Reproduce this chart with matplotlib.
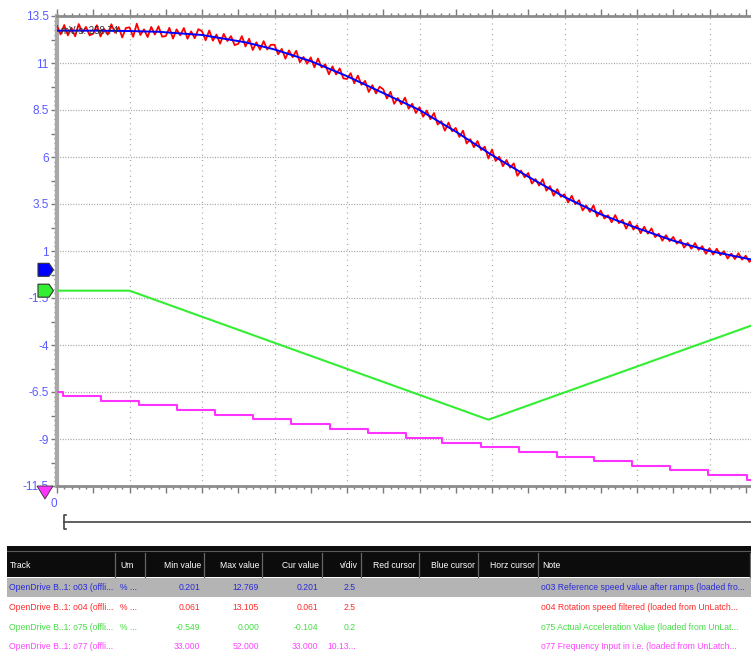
import numpy as np
import matplotlib
matplotlib.use("Agg")
import matplotlib.pyplot as plt
from matplotlib import font_manager as fm
from matplotlib.patches import Rectangle, Polygon
from matplotlib.ticker import FixedLocator, MultipleLocator, NullFormatter, FuncFormatter

_names = {f.name for f in fm.fontManager.ttflist}
NARROW = 'Liberation Sans Narrow' if 'Liberation Sans Narrow' in _names else 'Liberation Sans'
HAVE_NARROW = NARROW == 'Liberation Sans Narrow'
plt.rcParams['font.family'] = [NARROW, 'DejaVu Sans']

# ---------------- data (time in screen divisions) ----------------
blue_t = [0.0, 0.5, 1.0, 1.4, 2.0, 2.6, 3.0, 3.5, 4.0, 4.5, 5.0, 5.5, 6.0, 6.5,
          7.0, 7.5, 8.0, 8.5, 9.0, 9.6]
blue_v = [12.72, 12.72, 12.70, 12.66, 12.49, 12.1, 11.72, 11.1, 10.3, 9.4, 8.5,
          7.35, 6.1, 4.95, 3.87, 2.95, 2.22, 1.55, 1.0, 0.53]

red_dt = 0.05
red_v = [12.97, 12.52, 13.02, 12.47, 12.87, 12.42, 13.07, 12.62, 12.92, 12.47,
         12.56, 13.01, 12.41, 12.81, 12.51, 13.06, 12.61, 12.91, 12.36, 12.86,
         12.90, 12.39, 13.09, 12.49, 12.79, 12.38, 12.92, 12.51, 12.95, 12.40,
         12.43, 12.87, 12.30, 12.79, 12.47, 12.86, 12.29, 12.68, 12.32, 12.80,
         12.69, 12.21, 12.73, 12.19, 12.51, 12.03, 12.55, 12.17, 12.43, 11.95,
         12.02, 12.43, 11.88, 12.29, 11.69, 12.10, 11.71, 12.16, 11.72, 11.97,
         11.97, 11.46, 11.75, 11.23, 11.67, 11.31, 11.65, 11.04, 11.32, 10.96,
         11.30, 10.77, 11.24, 10.76, 10.93, 10.40, 10.82, 10.39, 10.71, 10.18,
         10.15, 10.46, 9.92, 10.33, 9.84, 10.05, 9.46, 9.82, 9.38, 9.74,
         9.60, 9.11, 9.47, 8.83, 9.14, 8.80, 9.16, 8.57, 8.83, 8.34,
         8.65, 8.14, 8.47, 8.01, 8.34, 7.73, 7.91, 7.40, 7.83, 7.37,
         7.55, 7.07, 7.40, 6.72, 6.95, 6.52, 6.85, 6.37, 6.55, 5.92,
         6.40, 5.79, 6.02, 5.51, 5.84, 5.43, 5.66, 5.00, 5.28, 4.92,
         5.15, 4.59, 4.83, 4.48, 4.82, 4.21, 4.45, 3.94, 4.29, 3.88,
         4.02, 3.58, 3.94, 3.49, 3.70, 3.16, 3.42, 3.08, 3.43, 2.84,
         3.15, 2.73, 2.90, 2.53, 2.91, 2.48, 2.66, 2.19, 2.57, 2.14,
         2.37, 1.95, 2.29, 1.92, 2.20, 1.74, 1.92, 1.55, 1.84, 1.52,
         1.75, 1.39, 1.59, 1.18, 1.43, 1.12, 1.42, 1.06, 1.26, 0.85,
         1.15, 0.81, 1.12, 0.78, 0.99, 0.60, 0.86, 0.57, 0.88, 0.54,
         0.75, 0.42, 0.63]

green_t = [0.0, 1.0, 5.95, 9.6]
green_v = [0.0, 0.0, -0.549, -0.146]

mag_t = [0.0, 0.087, 0.607, 1.127, 1.659, 2.179, 2.708, 3.234, 3.763, 4.290,
         4.814, 5.314, 5.848, 6.372, 6.893, 7.411, 7.935, 8.455, 8.983, 9.513, 9.6]
mag_v = [52, 51, 50, 49, 48, 47, 46, 45, 44, 43, 42, 41, 40, 39, 38, 37, 36, 35,
         34, 33, 33]

# track scaling: (zero offset on screen, value per division)
blue_zero, blue_vdiv = 0.0, 2.5
red_zero, red_vdiv = 0.0, 2.5
green_zero, green_vdiv = -1.11, 0.2
mag_zero, mag_vdiv = -19.31, 10.13

y_ticks = [13.5, 11, 8.5, 6, 3.5, 1, -1.5, -4, -6.5, -9, -11.5]

# table
headers = ["Track", "Um", "Min value", "Max value", "Cur value", "v/div",
           "Red cursor", "Blue cursor", "Horz cursor", "Note"]
track_names = ["OpenDrive B..1: o03 (offli...", "OpenDrive B..1: o04 (offli...",
               "OpenDrive B..1: o75 (offli...", "OpenDrive B..1: o77 (offli..."]
units = ["% ...", "% ...", "% ...", ""]
min_vals = ["0.201", "0.061", "-0.549", "33.000"]
max_vals = ["12.769", "13.105", "0.000", "52.000"]
cur_vals = ["0.201", "0.061", "-0.104", "33.000"]
vdiv_vals = ["2.5", "2.5", "0.2", "10.13..."]
notes = ["o03 Reference speed value after ramps (loaded fro...",
         "o04 Rotation speed filtered (loaded from UnLatch...",
         "o75 Actual Acceleration Value (loaded from UnLat...",
         "o77 Frequency Input in i.e. (loaded from UnLatch..."]

C_BLUE, C_RED, C_GREEN, C_MAG = '#0000ff', '#ff0000', '#33ee33', '#ff33ff'
T_BLUE, T_RED, T_GREEN, T_MAG = '#2a2ad8', '#ff2a2a', '#44dd44', '#ff44ff'

W, H = 751, 652
fig = plt.figure(figsize=(W / 100, H / 100), dpi=100)
fig.patch.set_facecolor('white')

L, R, T, B = 57, 751, 16, 486
ax = fig.add_axes([L / W, 1 - B / H, (R - L) / W, (B - T) / H])
ax.set_xlim(0, (R - L) / 72.5)
ax.set_ylim(-11.5, 13.5)

def to_screen(vals, zero, vdiv):
    return [zero + v * 2.5 / vdiv for v in vals]

# grid
for gx in range(1, 10):
    ax.axvline(gx, color='#a0a0a0', lw=0.9, ls=(0, (0.8, 3.4)), zorder=1)
for gy in y_ticks[1:-1]:
    ax.axhline(gy, color='#a0a0a0', lw=0.9, ls=(0, (0.8, 1.3)), zorder=1)

red_t = [i * red_dt for i in range(len(red_v))]
ax.plot(green_t, to_screen(green_v, green_zero, green_vdiv), color=C_GREEN, lw=1.5, zorder=3)
ax.plot(mag_t, to_screen(mag_v, mag_zero, mag_vdiv), color=C_MAG, lw=1.5,
        drawstyle='steps-post', zorder=3)
ax.plot(red_t, to_screen(red_v, red_zero, red_vdiv), color=C_RED, lw=1.3, zorder=4)
ax.plot(blue_t, to_screen(blue_v, blue_zero, blue_vdiv), color=C_BLUE, lw=1.4, zorder=5)

# axes styling
ax.spines['right'].set_visible(False)
ax.spines['top'].set_color('#8c8c8c'); ax.spines['top'].set_linewidth(2)
ax.spines['bottom'].set_color('#8c8c8c'); ax.spines['bottom'].set_linewidth(2)
ax.spines['left'].set_color('#a8a8a8'); ax.spines['left'].set_linewidth(3)

ax.xaxis.set_major_locator(MultipleLocator(0.5))
ax.xaxis.set_minor_locator(MultipleLocator(0.1))
ax.xaxis.set_major_formatter(NullFormatter())
ax.tick_params(axis='x', which='both', top=True, bottom=True, direction='out',
               color='#7a7a7a', width=1)
ax.tick_params(axis='x', which='major', length=5)
ax.tick_params(axis='x', which='minor', length=2.5)

ymaj = [-11.5 + 1.25 * k for k in range(21)]
ax.yaxis.set_major_locator(FixedLocator(ymaj))
ax.yaxis.set_minor_locator(MultipleLocator(0.25))
ax.yaxis.set_major_formatter(FuncFormatter(
    lambda v, p: (('%g' % v) if any(abs(v - t) < 1e-6 for t in y_ticks) else '')))
ax.tick_params(axis='y', which='both', direction='out', color='#7a7a7a', width=1,
               labelcolor='#5a5aff', labelsize=10 if HAVE_NARROW else 8.5, pad=2)
ax.tick_params(axis='y', which='major', length=4)
ax.tick_params(axis='y', which='minor', length=2)

# ---------------- overlay in pixel coordinates ----------------
ov = fig.add_axes([0, 0, 1, 1], zorder=10)
ov.set_xlim(0, W); ov.set_ylim(H, 0); ov.axis('off'); ov.patch.set_alpha(0)

def ypix(v):
    return H - ax.transData.transform((0, v))[1]

def pent(yc, color):
    pts = [(38, yc - 6.5), (49, yc - 6.5), (53.5, yc), (49, yc + 6.5), (38, yc + 6.5)]
    ov.add_patch(Polygon(pts, closed=True, fc=color, ec='#333333', lw=0.8))

pent(ypix(blue_zero), C_BLUE)
pent(ypix(green_zero), C_GREEN)
ov.add_patch(Polygon([(37, 486), (53, 486), (45, 499)], closed=True, fc=C_MAG,
                     ec='#333333', lw=0.6))
ov.text(54, 504, "0", color='#5a5aff', fontsize=10 if HAVE_NARROW else 8.5,
        ha='center', va='center')
ov.text(61, 31, "mV/s: 258.74", color='#333333', fontsize=7, ha='left', va='center',
        zorder=1)

# time scroller
ov.plot([64, 751], [522, 522], color='#444444', lw=1.2)
ov.plot([66, 64, 64, 66], [515, 515, 529, 529], color='#444444', lw=1.2)

# ---------------- table ----------------
ov.add_patch(Rectangle((7, 546), 751 - 7, 31, fc='#0c0c0c', ec='none'))
ov.plot([7, 751], [550.5, 550.5], color='#5a5a5a', lw=0.8)
col_sep = [115, 145, 204, 262, 322, 361, 419, 478, 538, 750]
for xs in col_sep:
    ov.plot([xs, xs], [553, 577], color='#666666', lw=0.9)
fs = 7.3 if HAVE_NARROW else 6.2
hdr_pos = [(10, 'left'), (120, 'left'), (201, 'right'), (259, 'right'), (319, 'right'),
           (358, 'right'), (416, 'right'), (475, 'right'), (535, 'right'), (542, 'left')]
for txt, (x, ha) in zip(headers, hdr_pos):
    ov.text(x, 565, txt, color='white', fontsize=fs, ha=ha, va='center')

ov.add_patch(Rectangle((7, 578), 751 - 7, 19, fc='#b4b4b4', ec='none'))
row_y = [588, 607.5, 627, 646.5]
row_cols = [T_BLUE, T_RED, T_GREEN, T_MAG]
for i in range(4):
    y = row_y[i]; c = row_cols[i]
    ov.text(9, y, track_names[i], color=c, fontsize=fs, ha='left', va='center')
    ov.text(120, y, units[i], color=c, fontsize=fs, ha='left', va='center')
    ov.text(200, y, min_vals[i], color=c, fontsize=fs, ha='right', va='center')
    ov.text(259, y, max_vals[i], color=c, fontsize=fs, ha='right', va='center')
    ov.text(318, y, cur_vals[i], color=c, fontsize=fs, ha='right', va='center')
    ov.text(356, y, vdiv_vals[i], color=c, fontsize=fs, ha='right', va='center')
    ov.text(541, y, notes[i], color=c, fontsize=fs, ha='left', va='center')

fig.savefig('out.png', dpi=100, facecolor='white')
